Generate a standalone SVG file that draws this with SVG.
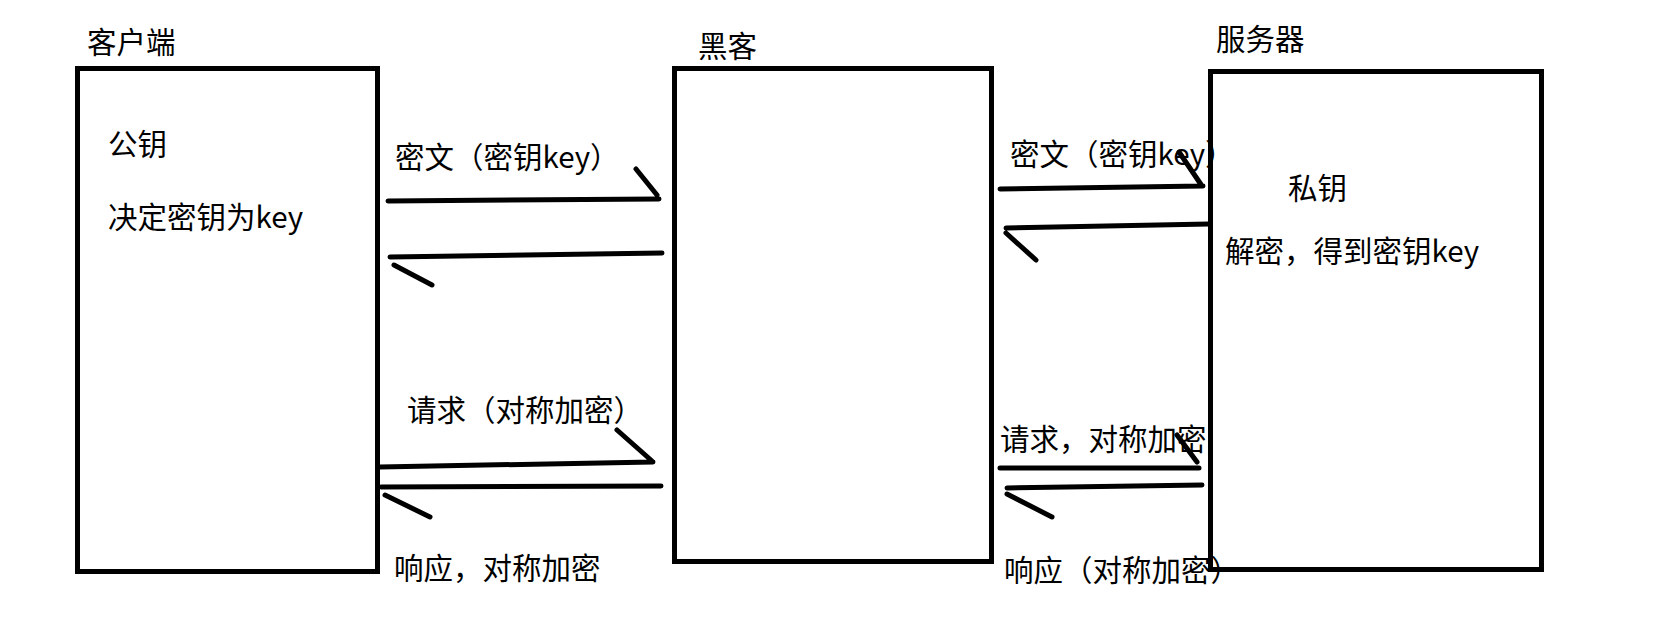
<svg xmlns="http://www.w3.org/2000/svg" width="1659" height="627" viewBox="0 0 1659 627">
<style>
.box{fill:none;stroke:#000;stroke-width:5}
.ln{fill:none;stroke:#000;stroke-width:5;stroke-linecap:round;stroke-linejoin:round}
text{font-family:"Microsoft YaHei","Noto Sans CJK SC","Noto Sans",sans-serif;font-size:29.5px;fill:#000}
</style>
<rect width="1659" height="627" fill="#fff"/>
<g id="client">
<rect class="box" x="77.5" y="68.5" width="300" height="503"/>
<text x="87" y="53">客户端</text>
<text x="108" y="155">公钥</text>
<text x="108" y="228">决定密钥为key</text>
</g>
<g id="hacker">
<rect class="box" x="674.5" y="68.5" width="317" height="493"/>
<text x="698" y="57">黑客</text>
</g>
<g id="server">
<rect class="box" x="1210.5" y="71.5" width="331" height="498"/>
<text x="1216" y="50">服务器</text>
<text x="1288" y="199">私钥</text>
<text x="1225" y="262">解密，得到密钥key</text>
</g>
<g id="connectors">
<path class="ln" d="M388 201 L659 199 M636 169 L657 195"/>
<path class="ln" d="M662 253 L390 257 M394 265 L432 285"/>
<path class="ln" d="M1000 189 L1203 186 M1179 152 L1202 186"/>
<path class="ln" d="M1209 224 L1006 228 M1006 233 L1036 260"/>
<path class="ln" d="M380 467 L653 462 M617 430 L652 461"/>
<path class="ln" d="M661 486 L381 487 M385 495 L430 517"/>
<path class="ln" d="M1000 468 L1199 468 M1177 435 L1197 462"/>
<path class="ln" d="M1202 485 L1007 488 M1007 494 L1052 517"/>
<text x="395" y="168">密文（密钥key）</text>
<text x="1010" y="165">密文（密钥key）</text>
<text x="407" y="421">请求（对称加密）</text>
<text x="1000" y="450">请求，对称加密</text>
<text x="394" y="579">响应，对称加密</text>
<text x="1004" y="581">响应（对称加密）</text>
</g>
</svg>
